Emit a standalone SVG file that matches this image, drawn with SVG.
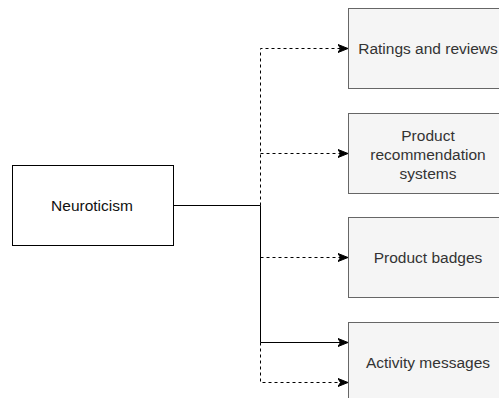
<svg xmlns="http://www.w3.org/2000/svg" width="499" height="398" viewBox="0 0 499 398">
  <style>
    .src { fill: #ffffff; stroke: #000000; stroke-width: 1; }
    .dst { fill: #f5f5f5; stroke: #666666; stroke-width: 1; }
    .lbl { font-family: "Liberation Sans", Arial, Helvetica, sans-serif; font-size: 15.5px; fill: #333333; text-anchor: middle; }
    .lbl-dark { fill: #111111; }
    .solid { fill: none; stroke: #000000; stroke-width: 1; }
    .dashed { fill: none; stroke: #000000; stroke-width: 1; stroke-dasharray: 3 3; }
  </style>
  <defs>
    <marker id="arrow" viewBox="0 0 10 10" refX="9" refY="5" markerWidth="10" markerHeight="10" markerUnits="userSpaceOnUse" orient="auto">
      <path d="M0,1 L10,5 L0,9 L2.5,5 Z" fill="#000000" stroke="#000000" stroke-width="1"/>
    </marker>
  </defs>
  <rect width="499" height="398" fill="#ffffff"/>

  <g id="connectors">
    <path class="solid" d="M173.5,205.5 H260.5"/>
    <path class="dashed" d="M260.5,205.5 V48.5 H347" marker-end="url(#arrow)"/>
    <path class="dashed" d="M260.5,153.5 H347" marker-end="url(#arrow)"/>
    <path class="dashed" d="M260.5,257.5 H347" marker-end="url(#arrow)"/>
    <path class="solid" d="M260.5,205.5 V342.5 H347" marker-end="url(#arrow)"/>
    <path class="dashed" d="M260.5,342.5 V382.5 H347" marker-end="url(#arrow)"/>
  </g>

  <g id="neuroticism">
    <rect class="src" x="12.5" y="165.5" width="161" height="80"/>
    <text class="lbl lbl-dark" x="92" y="210.5">Neuroticism</text>
  </g>

  <g id="ratings-reviews">
    <rect class="dst" x="348.5" y="8.5" width="160" height="80"/>
    <text class="lbl" x="428" y="53.5">Ratings and reviews</text>
  </g>

  <g id="product-recommendation">
    <rect class="dst" x="348.5" y="113.5" width="160" height="80"/>
    <text class="lbl" x="428" y="140.5">Product</text>
    <text class="lbl" x="428" y="159.5">recommendation</text>
    <text class="lbl" x="428" y="178.5">systems</text>
  </g>

  <g id="product-badges">
    <rect class="dst" x="348.5" y="217.5" width="160" height="80"/>
    <text class="lbl" x="428" y="262.5">Product badges</text>
  </g>

  <g id="activity-messages">
    <rect class="dst" x="348.5" y="322.5" width="160" height="80"/>
    <text class="lbl" x="428" y="367.5">Activity messages</text>
  </g>
</svg>
